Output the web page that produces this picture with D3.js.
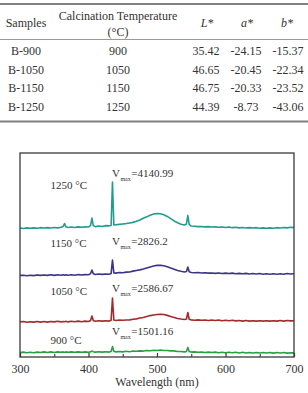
<!DOCTYPE html>
<html>
<head>
<meta charset="utf-8">
<script src="https://cdn.jsdelivr.net/npm/d3@7"></script>
<style>
  html, body { margin: 0; padding: 0; background: #fff; }
  svg text { font-family: 'Liberation Serif', 'Times New Roman', Times, serif; }
</style>
</head>
<body>
<div id="chart"></div>
<script>
// table values
const tableHeaders = ["Samples", "Calcination Temperature", "L*", "a*", "b*"];
const samples = ["B-900", "B-1050", "B-1150", "B-1250"];
const calcTemps = ["900", "1050", "1150", "1250"];
const Lvals = ["35.42", "46.65", "46.75", "44.39"];
const avals = ["-24.15", "-20.45", "-20.33", "-8.73"];
const bvals = ["-15.37", "-22.34", "-23.52", "-43.06"];

// spectra (offset intensity, a.u.)
const wavelengths = [300,305,310,315,320,325,330,335,340,345,350,355,360,363,365,367,370,375,380,385,390,395,400,403,405,407,410,415,420,425,430,433,435,437,440,445,450,455,460,465,470,475,480,485,490,495,500,505,510,515,520,525,530,535,540,543,545,547,550,555,560,565,570,575,580,585,590,595,600,605,610,615,620,625,630,635,640,645,650,655,660,665,670,675,680,685,690,695,700];

const s1250 = [632,630,633,631,633,631,634,632,634,632,635,633,636,640,654,638,635,637,635,638,636,638,637,645,681,644,639,642,640,644,643,645,858,647,648,650,652,654,657,660,665,672,680,687,695,701,703,702,697,689,678,667,658,651,647,652,694,650,642,641,639,640,638,639,637,638,636,637,635,637,634,636,633,635,632,634,632,634,631,633,631,633,631,634,632,635,633,636,634];
const s1150 = [400,401,398,401,399,402,400,402,400,403,400,403,401,403,401,403,401,403,401,404,402,404,403,409,426,408,404,407,405,407,406,409,475,412,411,414,413,416,417,421,424,427,431,436,441,446,449,449,447,442,436,430,424,420,417,419,441,418,414,413,414,412,413,411,412,410,412,409,411,409,411,408,410,408,410,407,409,407,409,406,408,406,408,406,408,406,409,407,408];
const s1050 = [172,174,170,173,171,174,171,174,171,174,172,175,172,174,173,175,172,175,173,176,173,176,174,179,201,179,175,178,176,178,176,180,289,181,179,181,180,181,182,185,187,191,194,199,203,206,208,209,208,204,199,194,189,186,184,186,218,185,182,180,182,180,181,179,181,179,181,178,180,178,180,177,179,176,179,176,178,176,178,176,178,176,178,176,179,176,179,177,178];
const s900 = [22,24,21,23,21,24,22,25,22,25,22,25,23,25,23,25,23,25,23,25,23,25,23,25,29,26,24,26,24,26,24,27,51,28,25,27,25,28,26,29,28,30,29,32,31,33,32,34,32,32,30,30,27,27,25,27,47,27,24,25,23,24,22,24,22,24,21,23,21,23,21,23,20,23,20,22,20,22,20,22,20,22,19,22,20,22,19,21,20];

const seriesNames = ["1250 °C", "1150 °C", "1050 °C", "900 °C"];
const seriesVals = [s1250, s1150, s1050, s900];
const vmaxLabels = ["4140.99", "2826.2", "2586.67", "1501.16"];
const seriesColors = ["#239c8e", "#3b3586", "#a52a2c", "#26a043"];

const xTicks = [300, 400, 500, 600, 700];
const xMinorTicks = [350, 450, 550, 650];

const FONT = "'Liberation Serif', 'Times New Roman', Times, serif";
const W = 308, H = 393;
const svg = d3.select("#chart").append("svg")
    .attr("width", W)
    .attr("height", H)
    .attr("font-family", FONT);

// ---- table ----
const table = svg.append("g").attr("fill", "#333").attr("font-size", 12);

table.append("line").attr("x1", 0).attr("x2", W).attr("y1", 4).attr("y2", 4)
    .attr("stroke", "#808080").attr("stroke-width", 2);
table.append("line").attr("x1", 0).attr("x2", W).attr("y1", 39.5).attr("y2", 39.5)
    .attr("stroke", "#9a9a9a").attr("stroke-width", 1.2);
table.append("line").attr("x1", 0).attr("x2", W).attr("y1", 121.5).attr("y2", 121.5)
    .attr("stroke", "#808080").attr("stroke-width", 2);

const colX = [26, 118, 206, 246, 288];
const headX = [26, 118, 207, 247, 287];

table.append("text").attr("x", headX[0]).attr("y", 27).attr("text-anchor", "middle").text(tableHeaders[0]);
table.append("text").attr("x", headX[1]).attr("y", 20).attr("text-anchor", "middle").text(tableHeaders[1]);
table.append("text").attr("x", headX[1]).attr("y", 36).attr("text-anchor", "middle").text("(°C)");
[2, 3, 4].forEach(i => {
    table.append("text").attr("x", headX[i]).attr("y", 27)
        .attr("text-anchor", "middle").attr("font-style", "italic")
        .text(tableHeaders[i]);
});

const rowY = d3.scaleLinear().domain([0, 3]).range([55, 110.5]);
const cols = [samples, calcTemps, Lvals, avals, bvals];
cols.forEach((col, ci) => {
    table.selectAll(null).data(col).join("text")
        .attr("x", colX[ci])
        .attr("y", (d, i) => rowY(i))
        .attr("text-anchor", "middle")
        .text(d => d);
});

// ---- spectra ----
const plot = { left: 20, right: 294, top: 153, bottom: 357 };

const x = d3.scaleLinear().domain([300, 700]).range([plot.left, plot.right]);
const y = d3.scaleLinear().domain([0, 1000]).range([plot.bottom, plot.top]);

const line = d3.line()
    .x((d, i) => x(wavelengths[i]))
    .y(d => y(d));

svg.selectAll(".trace").data(seriesVals).join("path")
    .attr("class", "trace")
    .attr("fill", "none")
    .attr("stroke", (d, i) => seriesColors[i])
    .attr("stroke-width", 1.6)
    .attr("stroke-linejoin", "round")
    .attr("d", line);

// frame
svg.append("rect")
    .attr("x", plot.left).attr("y", plot.top)
    .attr("width", plot.right - plot.left).attr("height", plot.bottom - plot.top)
    .attr("fill", "none").attr("stroke", "#3a3a3a").attr("stroke-width", 1.3);

// x axis, ticks pointing inward
const xAxis = svg.append("g")
    .attr("transform", `translate(0,${plot.bottom})`)
    .call(d3.axisBottom(x).tickValues(xTicks).tickSizeInner(-4).tickSizeOuter(0).tickPadding(7));
xAxis.attr("font-family", FONT).attr("font-size", 12);
xAxis.select(".domain").remove();
xAxis.selectAll("line").attr("stroke", "#3a3a3a").attr("stroke-width", 1.2);
xAxis.selectAll("text").attr("fill", "#333");

const xMinor = svg.append("g")
    .attr("transform", `translate(0,${plot.bottom})`)
    .call(d3.axisBottom(x).tickValues(xMinorTicks).tickSizeInner(-3).tickSizeOuter(0).tickFormat(""));
xMinor.select(".domain").remove();
xMinor.selectAll("line").attr("stroke", "#3a3a3a").attr("stroke-width", 1.1);

svg.append("text")
    .attr("x", x(500)).attr("y", 385.5)
    .attr("text-anchor", "middle")
    .attr("fill", "#333")
    .attr("font-size", 12)
    .text("Wavelength (nm)");

// series labels and Vmax annotations
const labelY = [188.5, 246.5, 294.5, 343.5];
const vmaxY = [176.5, 244.5, 292, 335];

svg.selectAll(".slabel").data(seriesNames).join("text")
    .attr("class", "slabel")
    .attr("x", 50.5)
    .attr("y", (d, i) => labelY[i])
    .attr("fill", "#333")
    .attr("font-size", 11)
    .text(d => d);

const vt = svg.selectAll(".vmax").data(vmaxLabels).join("text")
    .attr("class", "vmax")
    .attr("x", 112)
    .attr("y", (d, i) => vmaxY[i])
    .attr("fill", "#333")
    .attr("font-size", 11);
vt.append("tspan").text("V");
vt.append("tspan").attr("font-size", 6).attr("dy", 4).attr("dx", 0.5).text("max");
vt.append("tspan").attr("dy", -4).attr("dx", 0.5).text(d => "=" + d);
</script>
</body>
</html>
